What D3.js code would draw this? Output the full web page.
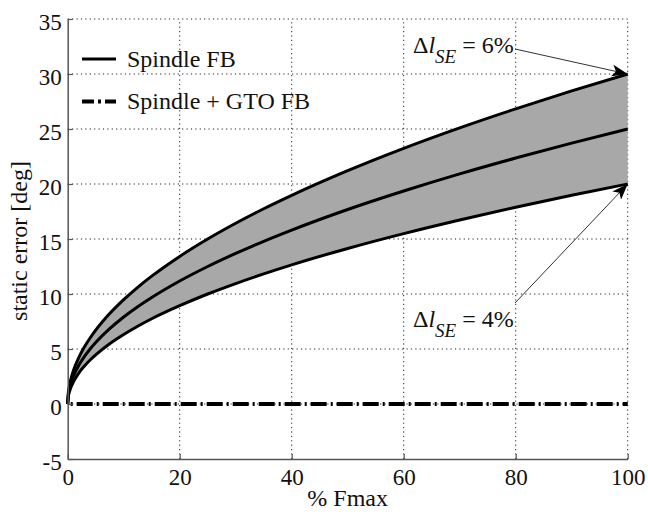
<!DOCTYPE html>
<html>
<head>
<meta charset="utf-8">
<script src="https://cdn.jsdelivr.net/npm/d3@7/dist/d3.min.js"></script>
<style>
  html, body { margin: 0; padding: 0; background: #fff; }
  svg text { font-family: "Liberation Serif", "Times New Roman", serif !important; }
</style>
</head>
<body>
<svg id="chart" width="648" height="514"></svg>
<script>
// % of maximum force
const forcePct = [0, 0.1, 0.25, 0.5, 1, 2, 3, 4, 5, 7.5, 10, 12.5, 15, 20, 25, 30, 35, 40, 50, 60, 70, 80, 90, 100];
// static error [deg], spindle feedback, for three series-elastic stretches
const errHigh = [0, 0.95, 1.5, 2.12, 3.0, 4.24, 5.2, 6.0, 6.71, 8.22, 9.49, 10.61, 11.62, 13.42, 15.0, 16.43, 17.75, 18.97, 21.21, 23.24, 25.1, 26.83, 28.46, 30.0];
const errMid  = [0, 0.79, 1.25, 1.77, 2.5, 3.54, 4.33, 5.0, 5.59, 6.85, 7.91, 8.84, 9.68, 11.18, 12.5, 13.69, 14.79, 15.81, 17.68, 19.36, 20.92, 22.36, 23.72, 25.0];
const errLow  = [0, 0.63, 1.0, 1.41, 2.0, 2.83, 3.46, 4.0, 4.47, 5.48, 6.32, 7.07, 7.75, 8.94, 10.0, 10.95, 11.83, 12.65, 14.14, 15.49, 16.73, 17.89, 18.97, 20.0];
// static error with spindle + GTO feedback
const gtoX = [0, 100];
const gtoErr = [0, 0];

const xTicks = [0, 20, 40, 60, 80, 100];
const yTicks = [-5, 0, 5, 10, 15, 20, 25, 30, 35];
const legendLabels = ["Spindle FB", "Spindle + GTO FB"];

const svg = d3.select("#chart");
const x = d3.scaleLinear().domain([0, 100]).range([67.7, 627.7]);
const y = d3.scaleLinear().domain([-5, 35]).range([459, 19]);

// dotted grid
const grid = svg.append("g").attr("stroke", "#222").attr("stroke-width", 1)
  .attr("stroke-dasharray", "1.2,3.2");
grid.selectAll("line.v").data(xTicks.filter(d => d > 0)).enter().append("line")
  .attr("x1", d => x(d)).attr("x2", d => x(d))
  .attr("y1", y(-5)).attr("y2", y(35));
grid.selectAll("line.h").data(yTicks.filter(d => d > -5)).enter().append("line")
  .attr("x1", x(0)).attr("x2", x(100))
  .attr("y1", d => y(d)).attr("y2", d => y(d));

// band between the high and low stretch curves
const band = forcePct.map((f, i) => ({ f, hi: errHigh[i], lo: errLow[i] }));
svg.append("path").datum(band)
  .attr("fill", "#a8a8a8")
  .attr("d", d3.area().x(d => x(d.f)).y0(d => y(d.lo)).y1(d => y(d.hi)).curve(d3.curveMonotoneX));

const line = d3.line().x(d => x(d[0])).y(d => y(d[1])).curve(d3.curveMonotoneX);
[errHigh, errMid, errLow].forEach(series => {
  svg.append("path").datum(forcePct.map((f, i) => [f, series[i]]))
    .attr("fill", "none").attr("stroke", "#000").attr("stroke-width", 3)
    .attr("stroke-linejoin", "round")
    .attr("d", line);
});

// spindle + GTO feedback: zero static error
svg.append("path").datum(gtoX.map((f, i) => [f, gtoErr[i]]))
  .attr("fill", "none").attr("stroke", "#000").attr("stroke-width", 4)
  .attr("stroke-dasharray", "16,4,2,4").attr("stroke-dashoffset", 17)
  .attr("d", d3.line().x(d => x(d[0])).y(d => y(d[1])));

// axes
const axisColor = "#555";
const fmt = d => String(d);
const gx = svg.append("g").attr("transform", `translate(0,${y(-5)})`)
  .call(d3.axisBottom(x).tickValues(xTicks).tickFormat(fmt).tickSize(-5).tickPadding(10).tickSizeOuter(0));
const gy = svg.append("g").attr("transform", `translate(${x(0)},0)`)
  .call(d3.axisLeft(y).tickValues(yTicks).tickFormat(fmt).tickSize(-5).tickPadding(6).tickSizeOuter(0));
[gx, gy].forEach(g => {
  g.attr("font-family", null);
  g.select(".domain").attr("stroke", axisColor).attr("stroke-width", 1.5);
  g.selectAll(".tick line").attr("stroke", axisColor).attr("stroke-width", 1.2);
  g.selectAll(".tick text").attr("fill", "#111").attr("font-size", 23);
});
gy.selectAll(".tick text").attr("dy", "0.45em");

// axis titles
svg.append("text").attr("x", (x(0) + x(100)) / 2).attr("y", 506)
  .attr("text-anchor", "middle").attr("font-size", 24).attr("fill", "#111")
  .text("% Fmax");
svg.append("text").attr("transform", `translate(27,${(y(-5) + y(35)) / 2 + 2}) rotate(-90)`)
  .attr("text-anchor", "middle").attr("font-size", 24).attr("fill", "#111")
  .text("static error [deg]");

// legend
const legend = svg.append("g");
legendLabels.forEach((label, i) => {
  const ly = 59 + i * 42.5;
  legend.append("line").attr("x1", 82).attr("x2", 116).attr("y1", ly).attr("y2", ly)
    .attr("stroke", "#000").attr("stroke-width", i === 0 ? 3 : 4)
    .attr("stroke-dasharray", i === 0 ? null : "12,4,3,4");
  legend.append("text").attr("x", 127).attr("y", ly + 7.5)
    .attr("font-size", 24).attr("fill", "#111").text(label);
});

// stretch annotations with arrows
svg.append("defs").append("marker")
  .attr("id", "head").attr("viewBox", "0 0 16 12").attr("refX", 16).attr("refY", 6)
  .attr("markerWidth", 16).attr("markerHeight", 12).attr("markerUnits", "userSpaceOnUse")
  .attr("orient", "auto")
  .append("path").attr("d", "M0,0 L16,6 L0,12 L4,6 Z").attr("fill", "#000");

function annotate(tx, ty, pct, ax, ay, targetY) {
  const t = svg.append("text").attr("x", tx).attr("y", ty).attr("font-size", 24).attr("fill", "#111");
  t.append("tspan").text("Δ");
  t.append("tspan").attr("font-style", "italic").text("l");
  t.append("tspan").attr("font-style", "italic").attr("font-size", 19).attr("dy", 10).text("SE");
  t.append("tspan").attr("dy", -10).text(" = " + pct + "%");
  svg.append("line").attr("x1", ax).attr("y1", ay)
    .attr("x2", x(100)).attr("y2", y(targetY))
    .attr("stroke", "#333").attr("stroke-width", 1)
    .attr("marker-end", "url(#head)");
}
annotate(413, 53, 6, 515, 49, errHigh[errHigh.length - 1]);
annotate(413, 327, 4, 515, 303, errLow[errLow.length - 1]);
</script>
</body>
</html>
